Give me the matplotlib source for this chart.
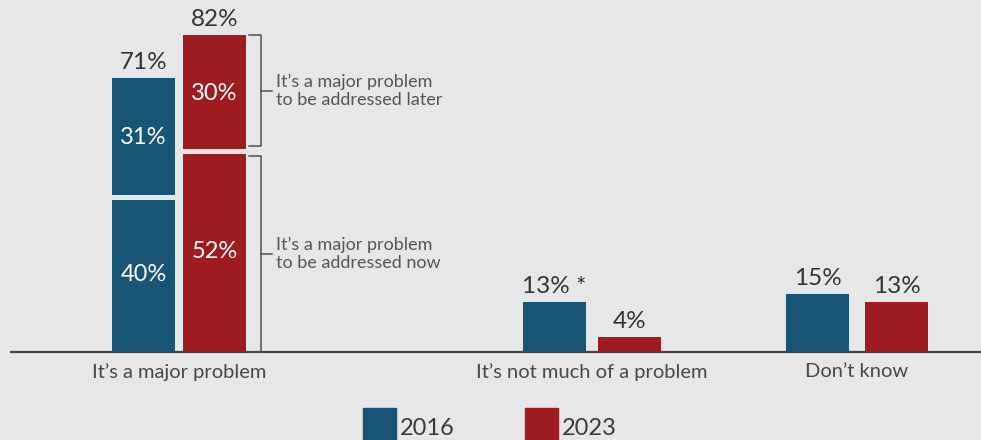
import matplotlib.pyplot as plt
from matplotlib.patches import Rectangle

# Survey shares in percent
categories = ["It’s a major problem", "It’s not much of a problem", "Don’t know"]
years = ["2016", "2023"]
major_now = [40, 52]      # major problem, address now
major_later = [31, 30]    # major problem, address later
not_much = [13, 4]
dont_know = [15, 13]
top_labels = [["71%", "82%"], ["13% *", "4%"], ["15%", "13%"]]
bracket_labels = ["It’s a major problem\nto be addressed later",
                  "It’s a major problem\nto be addressed now"]

BG = "#e6e7e9"
COLORS = ["#185575", "#9e1c20"]
LINE = "#505050"
FONT = "Lato"

fig = plt.figure(figsize=(9.81, 4.40), dpi=100, facecolor=BG)
ax = fig.add_axes([0, 0, 1, 1])
ax.set_facecolor(BG)
ax.set_xlim(0, 981)
# 3.865 px per percent, baseline 88 px above the bottom edge
ax.set_ylim(-88 / 3.865, 352 / 3.865)
ax.axis("off")

centers = [179, 592, 857]
offsets = [35.5, 37.5, 39.5]
width = 63

# stacked "major problem" bars
for j in range(2):
    x = centers[0] + (2 * j - 1) * offsets[0]
    ax.bar(x, major_now[j], width, color=COLORS[j])
    ax.bar(x, major_later[j], width, bottom=major_now[j], color=COLORS[j])
    # gap between the two segments
    ax.hlines(major_now[j], x - width / 2 - 1, x + width / 2 + 1, color=BG, lw=3.6)
    ax.text(x, major_now[j] / 2, f"{major_now[j]}%", color="white", fontsize=17,
            family=FONT, ha="center", va="center")
    ax.text(x, major_now[j] + major_later[j] / 2, f"{major_later[j]}%", color="white",
            fontsize=17, family=FONT, ha="center", va="center")
    ax.text(x, major_now[j] + major_later[j] + 1.2, top_labels[0][j], color="#333333",
            fontsize=17.5, family=FONT, ha="center", va="bottom")

# simple bars
for i, vals in [(1, not_much), (2, dont_know)]:
    for j in range(2):
        x = centers[i] + (2 * j - 1) * offsets[i]
        ax.bar(x, vals[j], width, color=COLORS[j])
        ax.text(x, vals[j] + 1.2, top_labels[i][j], color="#333333", fontsize=17.5,
                family=FONT, ha="center", va="bottom")

# baseline
ax.plot([10, 981], [0, 0], color="#444444", lw=1.6, solid_capstyle="butt")

# category labels
for c, name in zip(centers, categories):
    ax.text(c, -2.8, name, color="#484848", fontsize=14.5, family=FONT,
            ha="center", va="top")

# brackets next to the 2023 bar
total_2023 = major_now[1] + major_later[1]
spans = [(total_2023, major_now[1] + 1.3), (major_now[1] - 1.3, 0)]
bx = 261
for (top, bot), label in zip(spans, bracket_labels):
    ax.plot([bx - 12, bx, bx, bx - 12], [top, top, bot, bot], color=LINE, lw=1.1)
    mid = (top + bot) / 2
    ax.plot([bx, bx + 11], [mid, mid], color=LINE, lw=1.1)
    ax.text(bx + 15, mid, label, color="#555555", fontsize=13, family=FONT,
            ha="left", va="center", linespacing=1.15)

# legend squares at the bottom
for j, (lx, year) in enumerate(zip([363, 525], years)):
    ax.add_patch(Rectangle((lx, -88 / 3.865), 33, 32 / 3.865, color=COLORS[j],
                           clip_on=False))
    ax.text(lx + 37, -88 / 3.865 + 0.2, year, color="#3a3a3a", fontsize=17,
            family=FONT, ha="left", va="bottom")

fig.savefig("out.png", dpi=100, facecolor=BG)
